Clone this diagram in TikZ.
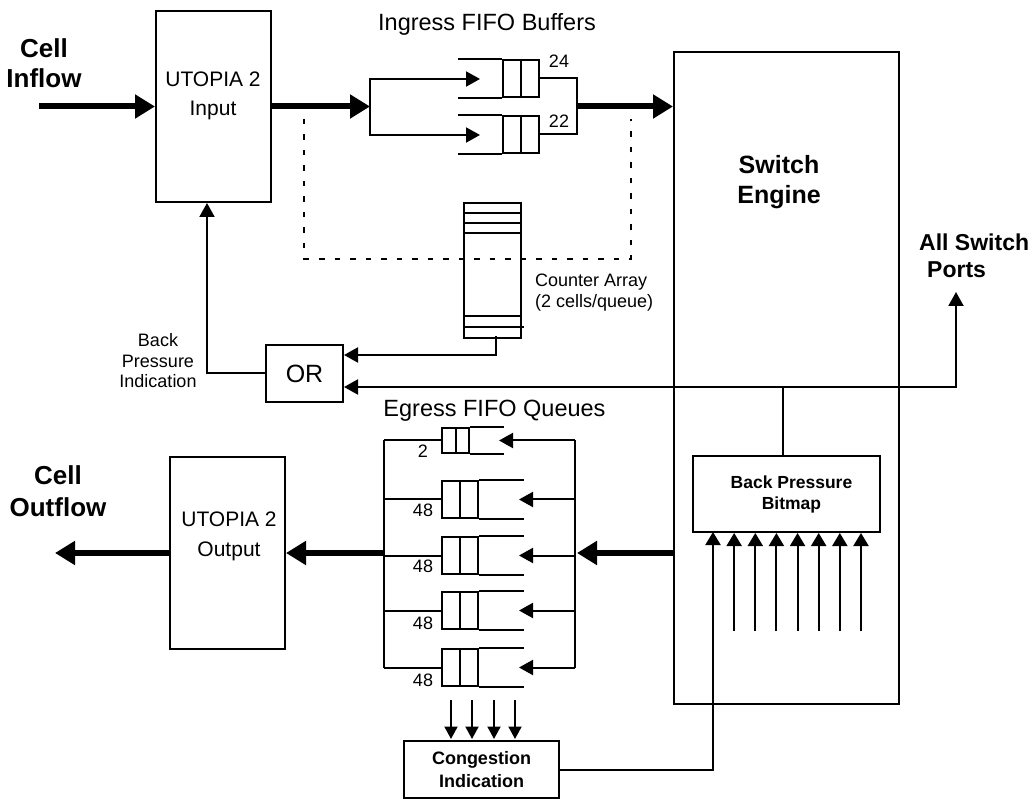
\documentclass[tikz,border=0pt]{standalone}
\usepackage{fontspec}
\setmainfont{Liberation Sans}
\usetikzlibrary{arrows.meta,calc}
\newcommand\fz[2]{\fontsize{#1pt}{#2pt}\selectfont}
\begin{document}
\begin{tikzpicture}[x=1pt,y=-1pt,
  box/.style={draw,line width=2pt,inner sep=0pt,rectangle},
  lbl/.style={inner sep=0pt,align=center},
  ln/.style={line width=2pt},
  arr/.style={line width=2pt,-{Triangle[length=14pt,width=15pt]}},
  arrs/.style={line width=2pt,-{Triangle[length=12.5pt,width=13pt]}},
  arrb/.style={line width=2pt,-{Triangle[length=13pt,width=15pt]}},
  fat/.style={line width=6pt,-{Triangle[length=20pt,width=23pt]}},
  dsh/.style={line width=2pt,dash pattern=on 5.5pt off 10pt},
  qbig/.style={box,minimum width=36pt,minimum height=37pt},
  qsmall/.style={box,minimum width=27pt,minimum height=25pt}]
\useasboundingbox (0,0) rectangle (1034,799);

% ---------- main boxes
\node[box,minimum width=115pt,minimum height=191pt] (uin) at (213.5,106.5) {};
\node[lbl,font=\fz{21}{29}] (uinT) at (213,96.2) {UTOPIA 2\\Input};
\node[box,minimum width=115pt,minimum height=192pt] (uout) at (227.5,553) {};
\node[lbl,font=\fz{21}{30}] (uoutT) at (229,536.7) {UTOPIA 2\\Output};
\node[box,minimum width=225pt,minimum height=652pt] (se) at (786.5,378) {};
\node[lbl,font=\bfseries\fz{25}{30}] (seT) at (779,181.7) {Switch\\Engine};
\node[box,minimum width=187pt,minimum height=76pt,align=center,font=\bfseries\fz{17.5}{21}] (bm) at (786.5,494) {\hspace*{10pt}Back Pressure\\\hspace*{10pt}Bitmap};
\node[box,minimum width=155pt,minimum height=57pt,font=\bfseries\fz{18}{23},align=center] (cg) at (481.5,769.5) {Congestion\\Indication};
\node[box,minimum width=77pt,minimum height=57pt,font=\fz{25}{30}] (or) at (304.5,373.5) {OR};
\node[box,minimum width=57pt,minimum height=135pt] (ca) at (492.5,270.5) {};

% ---------- labels
\node[lbl,font=\bfseries\fz{26}{30}] (cin) at (44,63.7) {Cell\\Inflow};
\node[lbl,font=\bfseries\fz{26}{32}] (cout) at (58,491.7) {Cell\\Outflow};
\node[lbl,font=\fz{18}{20.5}] (bpi) at (158,361) {Back\\Pressure\\Indication};
\node[lbl,font=\bfseries\fz{23}{27},align=left,anchor=west] (asp) at (919,255.3) {All Switch\\\hspace*{8pt}Ports};
\node[lbl,font=\fz{18}{21},align=left,anchor=west] (caT) at (535,292.9) {Counter Array\\(2 cells/queue)};
\node[lbl,font=\fz{23.5}{28},anchor=base] (ingT) at (487,31) {Ingress FIFO Buffers};
\node[lbl,font=\fz{23.5}{28},anchor=base] (egT) at (494.5,417) {Egress FIFO Queues};

% ---------- ingress queues
\node[qbig] (iq1) at (521,78.5) {};
\node[qbig] (iq2) at (521,134.5) {};
\foreach \q in {iq1,iq2}{
  \draw[ln] (\q.north) -- (\q.south);
  \draw[ln] (\q.north west) -- ++(-44,0);
  \draw[ln] (\q.south west) -- ++(-44,0);
}
\node[lbl,font=\fz{18}{20}] (n24) at (559,61.5) {24};
\node[lbl,font=\fz{18}{20}] (n22) at (559,121) {22};

% ---------- egress queues
\node[qsmall] (eq1) at (455.5,440.5) {};
\node[qbig] (eq2) at (460,499.5) {};
\node[qbig] (eq3) at (460,555.5) {};
\node[qbig] (eq4) at (460,610.5) {};
\node[qbig] (eq5) at (460,667.5) {};
\draw[ln] (eq1.north) -- (eq1.south);
\draw[ln] (eq1.north east) -- ++(34,0);
\draw[ln] (eq1.south east) -- ++(34,0);
\foreach \q in {eq2,eq3,eq4,eq5}{
  \draw[ln] (\q.north) -- (\q.south);
  \draw[ln] (\q.north east) -- ++(45,0);
  \draw[ln] (\q.south east) -- ++(45,0);
}
\node[lbl,font=\fz{18}{20}] (n2) at (423,451) {2};
\node[lbl,font=\fz{18}{20}] (n48a) at (423,510) {48};
\node[lbl,font=\fz{18}{20}] (n48b) at (423,566) {48};
\node[lbl,font=\fz{18}{20}] (n48c) at (423,623) {48};
\node[lbl,font=\fz{18}{20}] (n48d) at (423,680) {48};

% ---------- counter array
\foreach \yy in {213,223,233,316}{
  \draw[ln] (ca.west |- 0,\yy) -- (ca.east |- 0,\yy);
}
\draw[ln] (ca.west |- 0,327) -- ($(ca.east |- 0,327)+(2,0)$);

% ---------- dashed region
\draw[dsh] (304,119) -- (304,259) -- (631,259) -- (631,119);

% ---------- ingress connectors
\coordinate (inS) at (39,106.5);
\draw[fat] (inS) -- (uin.west);
\coordinate (split) at (370,106.5);
\draw[fat] (uin.east) -- (split);
\coordinate (m1) at (480,79);
\coordinate (m2) at (480,135);
\draw[arr] (split) |- (m1);
\draw[arr] (split) |- (m2);
\coordinate (join) at (577,106.5);
\draw[ln] (iq1.east) -| (join);
\draw[ln] (iq2.east) -| (join);
\draw[fat] (join) -- (join -| se.west);

% ---------- back pressure
\draw[arr] ($(ca.south)+(3.5,-3)$) |- ($(or.east)+(0,-18.5)$);
\draw[arr] (or.west) -| ($(uin.south)+(-6.5,0)$);
\coordinate (bj) at (783,387);
\coordinate (aspA) at (956,292);
\draw[arr] (bj) -- ($(or.east)+(0,13.5)$);
\draw[arr] (bj) -| (aspA);
\draw[ln] (bm.north -| bj) -- (bj);

% ---------- egress connectors
\coordinate (eR) at (575,553);
\draw[fat] (se.west |- eR) -- ($(eR)+(2,0)$);
\draw[ln] (eq1.east -| eR) -- (eq5.east -| eR);
\draw[arr] (eq1.east -| eR) -- ($(eq1.east)+(29,0)$);
\foreach \q in {eq2,eq3,eq4,eq5}{
  \draw[arr] (\q.east -| eR) -- ($(\q.east)+(40,0)$);
}
\coordinate (eL) at (384,553);
\draw[ln] (eq1.west -| eL) -- (eq5.west -| eL);
\foreach \q in {eq1,eq2,eq3,eq4,eq5}{
  \draw[ln] (\q.west) -- (\q.west -| eL);
}
\draw[fat] (eL) -- (uout.east |- eL);
\coordinate (outE) at (55,553);
\draw[fat] (uout.west) -- (outE);

% ---------- congestion
\foreach \xx in {451,472,494,515}{
  \draw[arrs] (\xx,700) -- (\xx,739);
}
\coordinate (c1) at (713,532);
\draw[arrb] (cg.east) -| (c1);
\foreach \i in {1,...,7}{
  \draw[arrb] (713+21.14*\i,631) -- (713+21.14*\i,533);
}
\end{tikzpicture}
\end{document}
